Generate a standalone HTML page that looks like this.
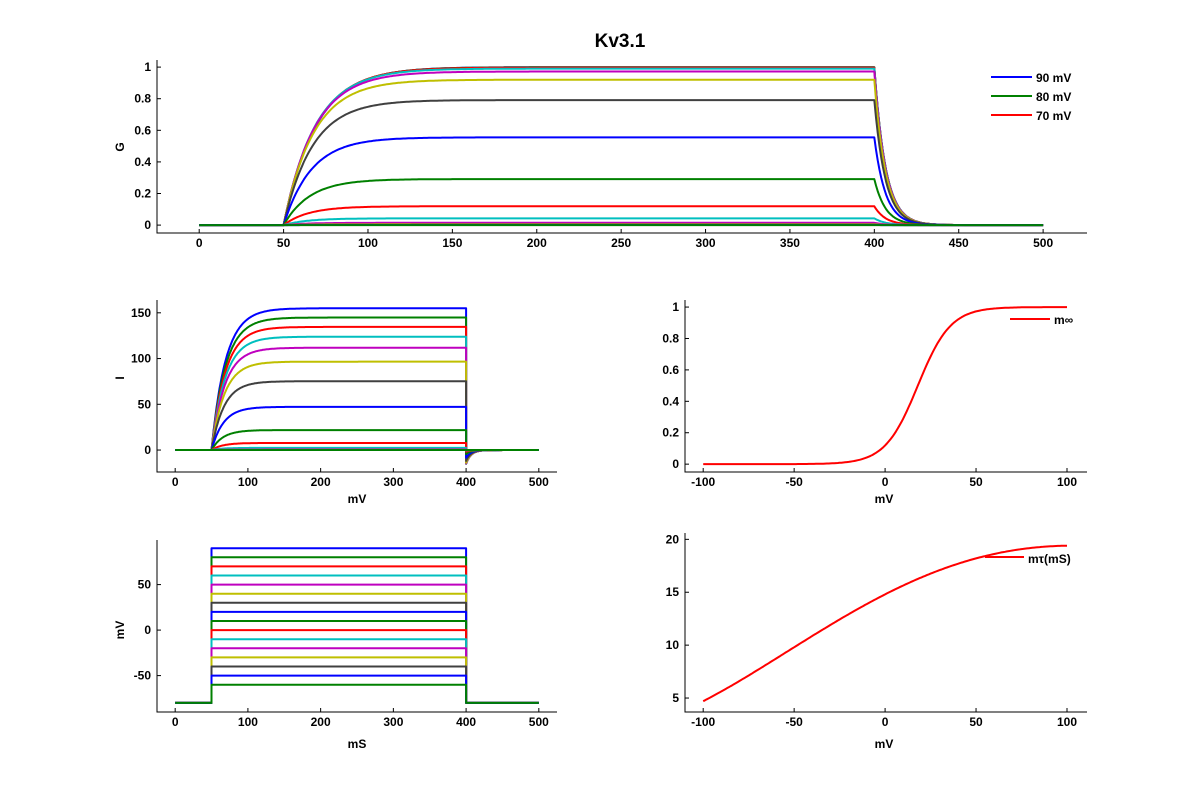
<!DOCTYPE html>
<html><head><meta charset="utf-8"><style>
body{margin:0;background:#fff}
svg text{font-family:"Liberation Sans",sans-serif;font-size:12px;font-weight:bold;fill:#000}
</style></head><body>
<svg id="s" width="1200" height="800" xmlns="http://www.w3.org/2000/svg"></svg>
<script>
const S=document.getElementById('s');let h='';
const cols=['#0000ff','#008000','#ff0000','#00bfbf','#bf00bf','#bfbf00','#404040'];
const Vs=[];for(let v=90;v>=-60;v-=10)Vs.push(v);
const minf=v=>1/(1+Math.exp(-(v-18)/9));
const tp=[[-100,4.7],[-50,9.8],[0,14.8],[50,18.2],[100,19.4]];
function tau(v){let r=0;for(let i=0;i<5;i++){let p=tp[i][1];for(let j=0;j<5;j++)if(j!=i)p*=(v-tp[j][0])/(tp[i][0]-tp[j][0]);r+=p;}return r;}
function G(v,t){if(t<50)return 0;const g=minf(v),T=tau(v);if(t<=400)return g*(1-Math.exp(-(t-50)/T));const g4=g*(1-Math.exp(-350/T));return g4*Math.exp(-(t-400)/tau(-80));}
function ax(o){
 const X=x=>o.px0+(x-o.x0)/(o.x1-o.x0)*(o.px1-o.px0),Y=y=>o.py1-(y-o.y0)/(o.y1-o.y0)*(o.py1-o.py0);
 h+=`<path d="M${o.px0} ${o.py0}V${o.py1}H${o.px1}" stroke="#000" fill="none" stroke-width="1"/>`;
 o.xt.forEach(t=>{const x=X(t);h+=`<line x1="${x}" y1="${o.py1}" x2="${x}" y2="${o.py1-4}" stroke="#000"/><text x="${x}" y="${o.py1+14}" text-anchor="middle">${t}</text>`});
 o.yt.forEach(t=>{const y=Y(t);h+=`<line x1="${o.px0}" y1="${y}" x2="${o.px0+4}" y2="${y}" stroke="#000"/><text x="${o.px0-6}" y="${y+4}" text-anchor="end">${t}</text>`});
 return [X,Y];}
function line(pts,c,w){h+=`<polyline fill="none" stroke="${c}" stroke-width="${w||2}" stroke-linejoin="round" points="${pts.map(p=>p[0].toFixed(1)+','+p[1].toFixed(1)).join(' ')}"/>`;}
let [X,Y]=ax({x0:-25,x1:526,y0:-0.05,y1:1.045,px0:157,px1:1087,py0:60,py1:233,xt:[0,50,100,150,200,250,300,350,400,450,500],yt:[0,0.2,0.4,0.6,0.8,1]});
Vs.forEach((v,i)=>{const p=[];for(let t=0;t<=500;t+=1)p.push([X(t),Y(G(v,t))]);line(p,cols[i%7]);});
[['90 mV',0],['80 mV',1],['70 mV',2]].forEach((l,i)=>{const y=77+i*19;h+=`<line x1="991" x2="1032" y1="${y}" y2="${y}" stroke="${cols[l[1]]}" stroke-width="2"/><text x="1036" y="${y+5}">${l[0]}</text>`});
h+=`<text x="620" y="47" text-anchor="middle" style="font-size:19px">Kv3.1</text>`;
h+=`<text transform="translate(124,147) rotate(-90)" text-anchor="middle">G</text>`;
[X,Y]=ax({x0:-25,x1:525,y0:-24,y1:164,px0:157,px1:557,py0:300,py1:472,xt:[0,100,200,300,400,500],yt:[0,50,100,150]});
Vs.forEach((v,i)=>{const p=[];for(let t=0;t<=500;t+=1){const Vm=(t>=50&&t<=400)?v:-80;let g=G(v,t);p.push([X(t),Y(g*(Vm+65))]);if(t==400){p.push([X(400),Y(g*(-15))]);}}line(p,cols[i%7]);});
h+=`<text transform="translate(124,378) rotate(-90)" text-anchor="middle">I</text><text x="357" y="503" text-anchor="middle">mV</text>`;
[X,Y]=ax({x0:-110,x1:111,y0:-0.05,y1:1.045,px0:685,px1:1087,py0:300,py1:472,xt:[-100,-50,0,50,100],yt:[0,0.2,0.4,0.6,0.8,1]});
{const p=[];for(let v=-100;v<=100;v+=1)p.push([X(v),Y(minf(v))]);line(p,'#ff0000');}
h+=`<line x1="1010" x2="1050" y1="319" y2="319" stroke="#f00" stroke-width="2"/><text x="1054" y="324">m∞</text><text x="884" y="503" text-anchor="middle">mV</text>`;
[X,Y]=ax({x0:-25,x1:525,y0:-90,y1:99,px0:157,px1:557,py0:540,py1:712,xt:[0,100,200,300,400,500],yt:[-50,0,50]});
for(let i=0;i<Vs.length;i++){const v=Vs[i];line([[X(0),Y(-80)],[X(50),Y(-80)],[X(50),Y(v)],[X(400),Y(v)],[X(400),Y(-80)],[X(500),Y(-80)]],cols[i%7]);}
h+=`<text transform="translate(124,630) rotate(-90)" text-anchor="middle">mV</text><text x="357" y="748" text-anchor="middle">mS</text>`;
[X,Y]=ax({x0:-110,x1:111,y0:3.68,y1:20.6,px0:685,px1:1087,py0:533,py1:712,xt:[-100,-50,0,50,100],yt:[5,10,15,20]});
{const p=[];for(let v=-100;v<=100;v+=1)p.push([X(v),Y(tau(v))]);line(p,'#ff0000');}
h+=`<line x1="985" x2="1024" y1="557" y2="557" stroke="#f00" stroke-width="2"/><text x="1028" y="563">mτ(mS)</text><text x="884" y="748" text-anchor="middle">mV</text>`;
S.innerHTML=h;
</script>
</body></html>
